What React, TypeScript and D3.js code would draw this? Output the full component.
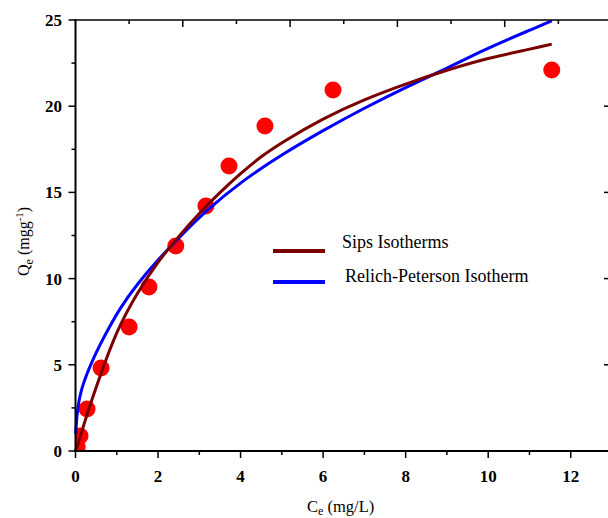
import * as d3 from "d3";

// experimental points
const ceData = [0.04, 0.11, 0.28, 0.62, 1.3, 1.78, 2.43, 3.16, 3.72, 4.59, 6.24, 11.54];
const qeData = [0.23, 0.87, 2.44, 4.81, 7.19, 9.51, 11.89, 14.21, 16.53, 18.85, 20.94, 22.1];

// Sips fit
const sipsCe = [0, 0.1, 0.3, 0.6, 1.0, 1.5, 2.0, 2.5, 3.0, 3.5, 4.0, 4.5, 5.0, 6.0, 7.0, 8.0, 9.0, 10.0, 11.0, 11.54];
const sipsQe = [0, 0.7, 2.3, 4.4, 7.0, 9.2, 11.0, 12.45, 13.8, 15.0, 16.1, 17.1, 17.9, 19.3, 20.4, 21.3, 22.1, 22.8, 23.3, 23.6];

// Relich-Peterson fit
const rpCe = [0.005, 0.03, 0.08, 0.15, 0.23, 0.4, 0.6, 0.8, 1.08, 1.5, 2.0, 2.5, 3.14, 4.0, 5.0, 6.0, 7.0, 8.0, 9.0, 9.84, 10.5, 11.0, 11.54];
const rpQe = [1.0, 2.0, 2.9, 3.6, 4.2, 5.2, 6.2, 7.1, 8.3, 9.7, 11.1, 12.35, 13.9, 15.6, 17.2, 18.6, 19.9, 21.1, 22.2, 23.2, 23.9, 24.4, 24.95];

const xTicks = [0, 2, 4, 6, 8, 10, 12];
const yTicks = [0, 5, 10, 15, 20, 25];

const legendItems = [
  { label: "Sips Isotherms", color: "#7a0000" },
  { label: "Relich-Peterson Isotherm", color: "#0000ff" },
];

const W = 608;
const H = 518;
const left = 75.5;
const top = 20;
const bottom = 451;
const right = 612;

const FONT = "Liberation Serif";

export default function App() {
  const x = d3.scaleLinear().domain([0, 13]).range([left, right]);
  const y = d3.scaleLinear().domain([0, 25]).range([bottom, top]);
  // top axis in Origin has its own scale
  const xTop = d3.scaleLinear().domain([0, 10]).range([left, right]);

  const line = d3
    .line<[number, number]>()
    .x((d) => x(d[0]))
    .y((d) => y(d[1]))
    .curve(d3.curveBasis);

  const sipsPath = line(sipsCe.map((c, i) => [c, sipsQe[i]]));
  const rpPath = line(rpCe.map((c, i) => [c, rpQe[i]]));

  const xMinor = d3.range(1, 13, 2);
  const yMinor = d3.range(2.5, 25, 5);
  const topMajor = [2, 4, 6, 8];
  const topMinor = [1, 3, 5, 7, 9];
  const rightMajor = [5, 10, 15, 20];

  return (
    <svg
      width={W}
      height={H}
      style={{ position: "absolute", left: 0, top: 0, background: "#fff" }}
    >
      <defs>
        <clipPath id="plot">
          <rect x={left} y={top - 10} width={right - left} height={bottom - top + 10} />
        </clipPath>
      </defs>

      <g clipPath="url(#plot)">
        {ceData.map((c, i) => (
          <circle key={i} cx={x(c)} cy={y(qeData[i])} r={8.5} fill="#ff0000" />
        ))}
      </g>

      <path d={rpPath ?? ""} fill="none" stroke="#0000ff" strokeWidth={3} />
      <path d={sipsPath ?? ""} fill="none" stroke="#7a0000" strokeWidth={3} />

      {/* frame */}
      <line x1={left} x2={left} y1={top - 1} y2={bottom + 1} stroke="#000" strokeWidth={2} />
      <line x1={left - 1} x2={W} y1={bottom} y2={bottom} stroke="#000" strokeWidth={2} />
      <line x1={left - 1} x2={W} y1={top} y2={top} stroke="#000" strokeWidth={1.5} />

      {/* bottom axis */}
      {xTicks.map((t) => (
        <g key={t}>
          <line x1={x(t)} x2={x(t)} y1={bottom} y2={bottom + 7} stroke="#000" strokeWidth={1.5} />
          <text
            x={x(t)}
            y={482}
            textAnchor="middle"
            fontFamily={FONT}
            fontWeight="bold"
            fontSize={17}
          >
            {t}
          </text>
        </g>
      ))}
      {xMinor.map((t) => (
        <line key={t} x1={x(t)} x2={x(t)} y1={bottom} y2={bottom + 4} stroke="#000" strokeWidth={1.5} />
      ))}

      {/* left axis */}
      {yTicks.map((t) => (
        <g key={t}>
          <line x1={left - 7} x2={left} y1={y(t)} y2={y(t)} stroke="#000" strokeWidth={1.5} />
          <text
            x={62}
            y={y(t)}
            dy="0.35em"
            textAnchor="end"
            fontFamily={FONT}
            fontWeight="bold"
            fontSize={17}
          >
            {t}
          </text>
        </g>
      ))}
      {yMinor.map((t) => (
        <line key={t} x1={left - 4} x2={left} y1={y(t)} y2={y(t)} stroke="#000" strokeWidth={1.5} />
      ))}

      {/* top axis */}
      {topMajor.map((t) => (
        <line key={t} x1={xTop(t)} x2={xTop(t)} y1={top} y2={top + 7} stroke="#000" strokeWidth={1.5} />
      ))}
      {topMinor.map((t) => (
        <line key={t} x1={xTop(t)} x2={xTop(t)} y1={top} y2={top + 4} stroke="#000" strokeWidth={1.5} />
      ))}

      {/* right axis (off page) */}
      {rightMajor.map((t) => (
        <line key={t} x1={right - 8} x2={right} y1={y(t)} y2={y(t)} stroke="#000" strokeWidth={1.5} />
      ))}

      {/* axis titles */}
      <text x={307} y={512} fontFamily={FONT} fontSize={16.5}>
        C<tspan fontSize={12} dy={3}>e</tspan>
        <tspan dy={-3}> (mg/L)</tspan>
      </text>
      <text transform="translate(29,276) rotate(-90)" fontFamily={FONT} fontSize={16}>
        Q<tspan fontSize={12} dy={4}>e</tspan>
        <tspan dy={-4}> (mgg</tspan>
        <tspan fontSize={11} dy={-6}>-1</tspan>
        <tspan dy={6}>)</tspan>
      </text>

      {/* legend */}
      {legendItems.map((item, i) => (
        <g key={item.label} transform={`translate(0, ${251 + i * 31})`}>
          <line x1={273} x2={325} y1={0} y2={0} stroke={item.color} strokeWidth={4} />
          <text x={i === 0 ? 342 : 345} y={-3 + i * 3} fontFamily={FONT} fontSize={18}>
            {item.label}
          </text>
        </g>
      ))}
    </svg>
  );
}
